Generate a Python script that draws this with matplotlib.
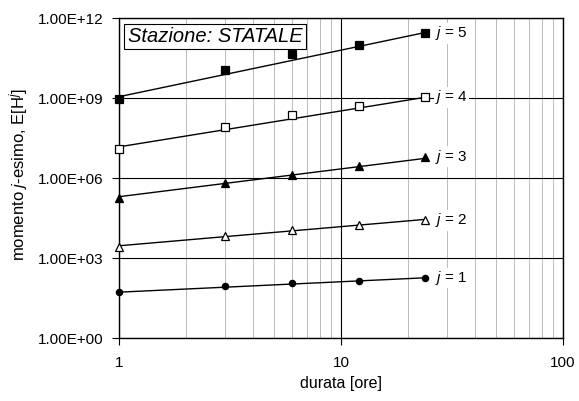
import matplotlib.pyplot as plt
from matplotlib.ticker import FixedLocator, NullFormatter

plt.rcParams['font.family'] = ['Liberation Sans', 'DejaVu Sans']
plt.rcParams['mathtext.fontset'] = 'custom'
plt.rcParams['mathtext.it'] = 'Liberation Sans:italic'
plt.rcParams['mathtext.rm'] = 'Liberation Sans'

durata = [1, 3, 6, 12, 24]

# log10 of the j-th moment
j1 = [1.74, 1.95, 2.05, 2.15, 2.25]
j2 = [3.42, 3.84, 4.05, 4.24, 4.41]
j3 = [5.26, 5.80, 6.11, 6.45, 6.80]
j4 = [7.09, 7.92, 8.36, 8.70, 9.03]
j5 = [8.95, 10.05, 10.64, 10.99, 11.43]

# trendline ends (log10) at durata 1 and 24
fit_x = [1, 24]
fit1 = [1.72, 2.26]
fit2 = [3.46, 4.45]
fit3 = [5.30, 6.74]
fit4 = [7.17, 9.03]
fit5 = [9.05, 11.46]

series = [
    (j1, fit1, 'o', 'k', 1, 4.5),
    (j2, fit2, '^', 'w', 2, 6),
    (j3, fit3, '^', 'k', 3, 6),
    (j4, fit4, 's', 'w', 4, 5.5),
    (j5, fit5, 's', 'k', 5, 5.5),
]

fig = plt.figure(figsize=(5.79, 4.01), dpi=100)
ax = fig.add_axes([0.2055, 0.157, 0.767, 0.798])
ax.set_xscale('log')
ax.set_yscale('log')
ax.set_xlim(1, 100)
ax.set_ylim(1, 1e12)

for vals, fit, mk, fc, j, ms in series:
    ax.plot(fit_x, [10 ** v for v in fit], color='k', lw=1, zorder=3)
    ax.plot(durata, [10 ** v for v in vals], ls='none', marker=mk, mfc=fc, mec='k',
            ms=ms, mew=0.9, zorder=4, clip_on=False)
    ax.text(26.5, 10 ** vals[-1], '$j$ = %d' % j, fontsize=11, va='center', ha='left',
            zorder=5, bbox=dict(facecolor='white', edgecolor='none', pad=1))

ax.yaxis.set_major_locator(FixedLocator([1, 1e3, 1e6, 1e9, 1e12]))
ax.yaxis.set_minor_locator(FixedLocator([]))
ax.set_yticklabels(['1.00E+00', '1.00E+03', '1.00E+06', '1.00E+09', '1.00E+12'])
ax.xaxis.set_major_locator(FixedLocator([1, 10, 100]))
ax.set_xticklabels(['1', '10', '100'])
ax.xaxis.set_minor_formatter(NullFormatter())
ax.grid(True, which='major', axis='y', color='k', lw=0.8)
ax.grid(True, which='major', axis='x', color='k', lw=0.8)
ax.grid(True, which='minor', axis='x', color='#b0b0b0', lw=0.6)
ax.tick_params(which='major', direction='out', length=5, labelsize=11, width=0.8)
ax.tick_params(axis='x', which='major', pad=8)
ax.tick_params(axis='y', which='major', pad=6)
ax.tick_params(which='minor', length=0)
for s in ax.spines.values():
    s.set_linewidth(1)

ax.set_xlabel('durata [ore]', fontsize=11.5)
ax.xaxis.set_label_coords(0.5, -0.12)
ax.set_ylabel('momento $j$-esimo, E[H$^j$]', fontsize=12)
ax.yaxis.set_label_coords(-0.2, 0.51)

ax.text(0.02, 0.972, 'Stazione: STATALE', transform=ax.transAxes, fontsize=14.5,
        style='italic', va='top', ha='left', zorder=6,
        bbox=dict(facecolor='white', edgecolor='k', lw=0.8, pad=2.5))

fig.savefig('out.png', dpi=100)
